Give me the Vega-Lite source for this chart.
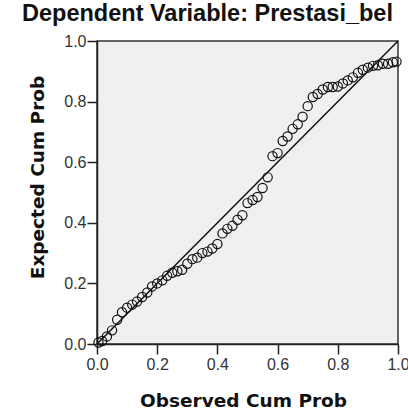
{
  "$schema": "https://vega.github.io/schema/vega-lite/v6.json",
  "width": 301,
  "height": 303,
  "autosize": "none",
  "padding": {"left": 97, "top": 41, "right": 10, "bottom": 69},
  "background": "white",
  "config": {
    "view": {"fill": "#f0f0f0", "stroke": "#333333", "strokeWidth": 1.5},
    "axis": {"grid": false, "domainColor": "#222222", "domainWidth": 1.5, "tickColor": "#222222", "tickWidth": 1.5, "tickSize": 10, "labelFont": "Liberation Sans", "labelFontSize": 16, "labelColor": "#333333", "titleFont": "DejaVu Sans", "titleFontWeight": "bold", "titleFontSize": 18.5, "titleColor": "#111111"}
  },
  "title": {"text": "Dependent Variable: Prestasi_bel", "font": "Liberation Sans", "fontSize": 23.5, "fontWeight": "bold", "color": "#111111", "anchor": "middle", "dx": -40, "offset": 8},
  "layer": [
    {
      "data": {"values": [{"obs": 0, "exp": 0}, {"obs": 1, "exp": 1}]},
      "mark": {"type": "line", "color": "#111111", "strokeWidth": 1.5},
      "encoding": {
        "x": {"field": "obs", "type": "quantitative"},
        "y": {"field": "exp", "type": "quantitative"}
      }
    },
    {
      "data": {"values": [
        {"obs": 0.005, "exp": 0.005},
        {"obs": 0.017, "exp": 0.010},
        {"obs": 0.033, "exp": 0.025},
        {"obs": 0.050, "exp": 0.045},
        {"obs": 0.067, "exp": 0.080},
        {"obs": 0.083, "exp": 0.105},
        {"obs": 0.100, "exp": 0.120},
        {"obs": 0.117, "exp": 0.130},
        {"obs": 0.133, "exp": 0.140},
        {"obs": 0.150, "exp": 0.155},
        {"obs": 0.167, "exp": 0.170},
        {"obs": 0.183, "exp": 0.190},
        {"obs": 0.200, "exp": 0.200},
        {"obs": 0.217, "exp": 0.210},
        {"obs": 0.233, "exp": 0.225},
        {"obs": 0.250, "exp": 0.235},
        {"obs": 0.267, "exp": 0.240},
        {"obs": 0.283, "exp": 0.245},
        {"obs": 0.300, "exp": 0.265},
        {"obs": 0.317, "exp": 0.280},
        {"obs": 0.333, "exp": 0.285},
        {"obs": 0.350, "exp": 0.300},
        {"obs": 0.367, "exp": 0.305},
        {"obs": 0.383, "exp": 0.315},
        {"obs": 0.400, "exp": 0.330},
        {"obs": 0.417, "exp": 0.365},
        {"obs": 0.433, "exp": 0.380},
        {"obs": 0.450, "exp": 0.390},
        {"obs": 0.467, "exp": 0.410},
        {"obs": 0.483, "exp": 0.425},
        {"obs": 0.500, "exp": 0.465},
        {"obs": 0.517, "exp": 0.475},
        {"obs": 0.533, "exp": 0.485},
        {"obs": 0.550, "exp": 0.515},
        {"obs": 0.567, "exp": 0.550},
        {"obs": 0.583, "exp": 0.620},
        {"obs": 0.600, "exp": 0.630},
        {"obs": 0.617, "exp": 0.670},
        {"obs": 0.633, "exp": 0.685},
        {"obs": 0.650, "exp": 0.710},
        {"obs": 0.667, "exp": 0.725},
        {"obs": 0.683, "exp": 0.750},
        {"obs": 0.700, "exp": 0.785},
        {"obs": 0.717, "exp": 0.815},
        {"obs": 0.733, "exp": 0.825},
        {"obs": 0.750, "exp": 0.840},
        {"obs": 0.767, "exp": 0.848},
        {"obs": 0.783, "exp": 0.848},
        {"obs": 0.800, "exp": 0.850},
        {"obs": 0.817, "exp": 0.860},
        {"obs": 0.833, "exp": 0.870},
        {"obs": 0.850, "exp": 0.880},
        {"obs": 0.867, "exp": 0.895},
        {"obs": 0.883, "exp": 0.905},
        {"obs": 0.900, "exp": 0.912},
        {"obs": 0.917, "exp": 0.918},
        {"obs": 0.933, "exp": 0.920},
        {"obs": 0.950, "exp": 0.925},
        {"obs": 0.967, "exp": 0.925},
        {"obs": 0.983, "exp": 0.930},
        {"obs": 0.995, "exp": 0.932}
      ]},
      "mark": {"type": "point", "shape": "circle", "filled": false, "stroke": "#111111", "strokeWidth": 1.2, "size": 85, "opacity": 1},
      "encoding": {
        "x": {"field": "obs", "type": "quantitative", "title": "Observed Cum Prob", "scale": {"domain": [0, 1], "nice": false}, "axis": {"values": [0, 0.2, 0.4, 0.6, 0.8, 1], "format": ".1f", "labelPadding": 2, "titlePadding": 19, "titleX": 146, "labelFlush": false}},
        "y": {"field": "exp", "type": "quantitative", "title": "Expected Cum Prob", "scale": {"domain": [0, 1], "nice": false}, "axis": {"values": [0, 0.2, 0.4, 0.6, 0.8, 1], "format": ".1f", "labelPadding": 1, "titlePadding": 16, "titleY": 136, "labelFlush": false}}
      }
    }
  ]
}
